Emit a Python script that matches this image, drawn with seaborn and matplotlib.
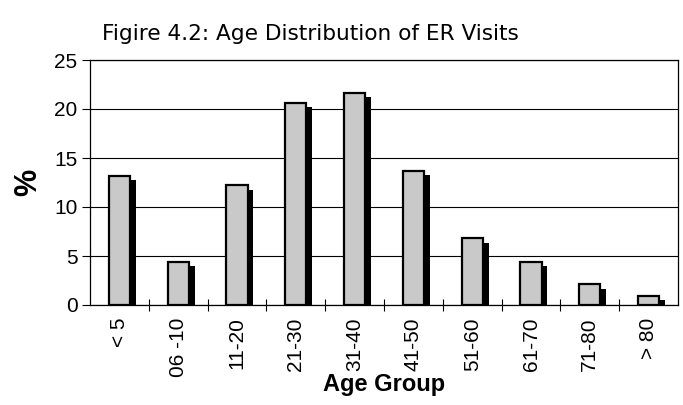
import matplotlib
matplotlib.use("Agg")
import matplotlib.pyplot as plt
import matplotlib.patheffects as pe
import seaborn as sns
import pandas as pd

categories = ["< 5", "06 -10", "11-20", "21-30", "31-40", "41-50", "51-60", "61-70", "71-80", "> 80"]
percent = [13.2, 4.4, 12.2, 20.6, 21.6, 13.7, 6.8, 4.4, 2.1, 0.9]
yticks = [0, 5, 10, 15, 20, 25]
title = "Figire 4.2: Age Distribution of ER Visits"
xlabel = "Age Group"
ylabel = "%"

df = pd.DataFrame({"Age Group": categories, "Percent": percent})

sns.set_style("white")
plt.rcParams["font.family"] = ["Liberation Sans", "DejaVu Sans"]
plt.rcParams.update({"text.color": "black", "axes.labelcolor": "black",
                     "xtick.color": "black", "ytick.color": "black"})

W, H = 683, 405
fig = plt.figure(figsize=(6.83, 4.05), dpi=100)
L, R, T, B = 90, 678, 60, 305
ax = fig.add_axes([L / W, 1 - B / H, (R - L) / W, (B - T) / H])

sns.barplot(data=df, x="Age Group", y="Percent", ax=ax, color="#c9c9c9",
            edgecolor="black", linewidth=1.6, width=0.36, saturation=1, zorder=3)

for p in ax.patches:
    p.set_path_effects([pe.SimplePatchShadow(offset=(4.2, -3), shadow_rgbFace="black", alpha=1.0),
                        pe.Normal()])

ax.set_ylim(0, 25)
ax.set_xlim(-0.5, len(categories) - 0.5)
ax.set_yticks(yticks)
ax.set_yticklabels([str(v) for v in yticks], fontsize=15)
ax.yaxis.grid(True, color="black", linewidth=0.8)
ax.set_axisbelow(True)

ax.set_xticks([i - 0.5 for i in range(1, len(categories))], minor=True)
ax.set_xticks(range(len(categories)))
ax.set_xticklabels(categories, rotation=90, fontsize=15)
ax.tick_params(axis="x", which="both", bottom=True)
ax.tick_params(axis="x", which="major", length=0, pad=9)
ax.tick_params(axis="x", which="minor", length=9, direction="inout", width=0.8, color="black")
ax.tick_params(axis="y", length=6, direction="out", width=0.8, color="black", left=True, pad=3)

for s in ax.spines.values():
    s.set_visible(True)
    s.set_color("black")
    s.set_linewidth(0.9)

ax.set_xlabel(xlabel, fontsize=17, fontweight="bold", labelpad=-3)
ax.set_ylabel(ylabel, fontsize=22, fontweight="bold", labelpad=8)

fig.text(102 / W, 1 - 34 / H, title, fontsize=15.6, family=["DejaVu Sans"],
         ha="left", va="center")

fig.savefig("out.png", dpi=100)
